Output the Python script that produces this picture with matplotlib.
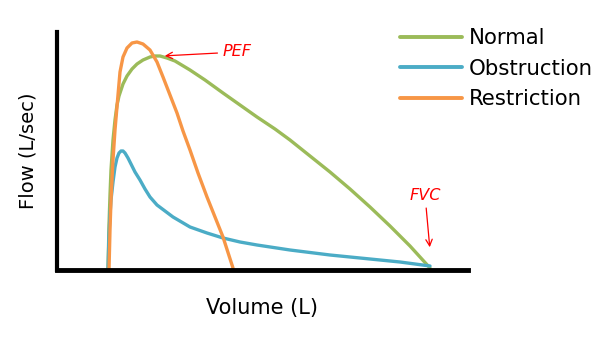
import matplotlib
matplotlib.use("Agg")
import matplotlib.pyplot as plt

# flow-volume loops (arbitrary units)
normal_vol = [51, 52, 53, 54, 56, 58, 60, 62, 66, 70, 75, 80, 86, 93, 98, 103, 110, 118, 133, 148, 166, 183, 200, 218, 233, 253, 273, 293, 313, 333, 353, 373]
normal_flow = [0, 45, 75, 100, 130, 150, 165, 174, 186, 194, 201, 206, 210, 213, 214, 214, 212, 209, 200, 190, 177, 165, 153, 141, 130, 114, 98, 81, 63, 44, 24, 2]

obstr_vol = [51, 52, 53, 54, 56, 58, 60, 62, 64, 66, 68, 71, 74, 78, 83, 88, 93, 100, 108, 116, 133, 150, 166, 183, 200, 233, 273, 313, 343, 373]
obstr_flow = [0, 35, 55, 70, 88, 103, 112, 117, 119, 119, 117, 112, 106, 98, 90, 81, 73, 65, 59, 53, 43, 37, 32, 28, 25, 20, 15, 11, 8, 4]

restr_vol = [52, 53, 54, 56, 58, 61, 63, 66, 70, 75, 80, 86, 93, 100, 106, 113, 120, 126, 133, 141, 150, 158, 166, 176]
restr_flow = [0, 40, 70, 110, 140, 175, 198, 213, 222, 227, 228, 226, 220, 208, 193, 175, 157, 139, 120, 97, 73, 53, 33, 2]

labels = ["Normal", "Obstruction", "Restriction"]
colors = ["#9BBB59", "#4BACC6", "#F79646"]

fig = plt.figure(figsize=(6.11, 3.44), dpi=100)
ax = fig.add_axes([57 / 611, 74 / 344, 411 / 611, 238 / 344])

series = [(normal_vol, normal_flow), (obstr_vol, obstr_flow), (restr_vol, restr_flow)]
for (v, f), lab, c in zip(series, labels, colors):
    ax.plot(v, f, color=c, lw=2.4, label=lab, solid_capstyle="round", solid_joinstyle="round")

ax.set_xlim(0, 411)
ax.set_ylim(0, 238)
ax.set_xticks([])
ax.set_yticks([])
for s in ["top", "right"]:
    ax.spines[s].set_visible(False)
ax.spines["left"].set_linewidth(3)
ax.spines["bottom"].set_linewidth(3.5)

ax.set_xlabel("Volume (L)", fontsize=15, labelpad=20)
ax.set_ylabel("Flow (L/sec)", fontsize=14, labelpad=14)

leg = fig.legend(loc="upper left", bbox_to_anchor=(381 / 611, 1 - 9 / 344), frameon=False,
                 fontsize=15.3, handlelength=2.9, handletextpad=0.35, labelspacing=0.5)
for line in leg.get_lines():
    line.set_linewidth(2.8)

# annotations
ax.annotate("PEF", xy=(105, 214), xytext=(166, 218), color="red", fontsize=11.5,
            fontstyle="italic", va="center",
            arrowprops=dict(arrowstyle="->", color="red", lw=0.9))
ax.annotate("FVC", xy=(373, 20), xytext=(368, 75), color="red", fontsize=11.5,
            fontstyle="italic", ha="center", va="center",
            arrowprops=dict(arrowstyle="->", color="red", lw=0.9))

fig.savefig("out.png", dpi=100)
